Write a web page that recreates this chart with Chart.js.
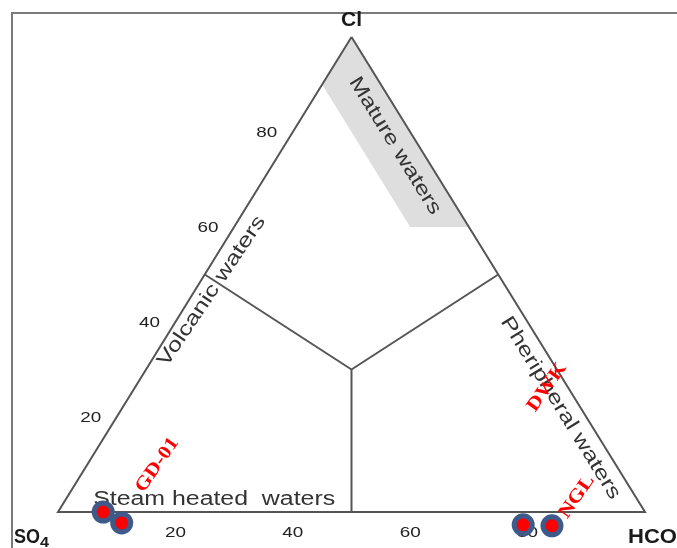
<!DOCTYPE html>
<html lang="en">
<head>
<meta charset="UTF-8">
<title>Cl - SO4 - HCO3 ternary diagram</title>
<script src="https://cdn.jsdelivr.net/npm/chart.js"></script>
<style>
  html, body { margin: 0; padding: 0; background: #fff; }
</style>
</head>
<body>
<canvas id="ternary" width="677" height="548"></canvas>
<script>
  // ternary points are [Cl, SO4, HCO3] in %
  const tickValues = [20, 40, 60, 80];
  const outline = [[100, 0, 0], [0, 100, 0], [0, 0, 100], [100, 0, 0]];
  const matureZone = [[100, 0, 0], [60, 0, 40], [60, 10, 30], [90, 10, 0], [100, 0, 0]];
  const volcanicLine = [[50, 50, 0], [30, 35, 35]];
  const peripheralLine = [[50, 0, 50], [30, 35, 35]];
  const steamLine = [[30, 35, 35], [0, 50, 50]];

  // samples (Cl %, HCO3 %)
  const sampleCl = [0, -2.3, -2.7, -2.9];
  const sampleHCO3 = [7.7, 12.0, 80.6, 85.6];
  const sampleLabels = ['GD-01', 'DWK', 'NGL'];

  const regionNames = ['Mature waters', 'Volcanic waters', 'Pheripheral waters', 'Steam heated  waters'];

  function tern(p) {
    return { x: p[2] + p[0] / 2, y: p[0] };
  }

  const samplePoints = sampleCl.map((cl, i) => tern([cl, 100 - cl - sampleHCO3[i], sampleHCO3[i]]));

  // text fitted to a given length along its baseline
  function fitText(ctx, text, cx, cy, angle, font, len, color, align) {
    ctx.save();
    ctx.translate(cx, cy);
    ctx.rotate(angle);
    ctx.font = font;
    const w = ctx.measureText(text).width;
    ctx.scale(len / w, 1);
    ctx.textAlign = align || 'center';
    ctx.textBaseline = 'middle';
    ctx.fillStyle = color;
    ctx.fillText(text, 0, 0);
    ctx.restore();
  }

  function pix(chart, x, y) {
    return { x: chart.scales.x.getPixelForValue(x), y: chart.scales.y.getPixelForValue(y) };
  }

  const lineStyle = { borderColor: '#555', borderWidth: 2, pointRadius: 0, fill: false, tension: 0 };

  const decor = {
    id: 'decor',
    beforeDatasetsDraw(chart) {
      const ctx = chart.ctx;
      // frame
      ctx.save();
      ctx.strokeStyle = '#7a7a7a';
      ctx.lineWidth = 2;
      ctx.strokeRect(12, 13, 720, 600);
      ctx.restore();

      const apex = pix(chart, 50, 100);
      const so = pix(chart, 0, 0);
      const hc = pix(chart, 100, 0);

      // corner labels
      const cf = 'bold 20px Arial, "Liberation Sans"';
      const sub = 'bold 14px Arial, "Liberation Sans"';
      fitText(ctx, 'Cl', apex.x, apex.y - 17, 0, 'bold 21px Arial, "Liberation Sans"', 21, '#1a1a1a');
      fitText(ctx, 'SO', so.x - 44, so.y + 25, 0, cf, 26, '#1a1a1a', 'left');
      fitText(ctx, '4', so.x - 18, so.y + 31, 0, sub, 9, '#1a1a1a', 'left');
      fitText(ctx, 'HCO', hc.x - 17, hc.y + 25, 0, cf, 49, '#1a1a1a', 'left');
      fitText(ctx, '3', hc.x + 33, hc.y + 31, 0, sub, 9, '#1a1a1a', 'left');

      // tick labels
      const tf = '15px Arial, "Liberation Sans"';
      tickValues.forEach(v => {
        const b = pix(chart, v, 0);
        fitText(ctx, String(v), b.x, b.y + 21, 0, tf, 21, '#222');
        const l = pix(chart, v / 2, v);
        fitText(ctx, String(v), l.x - 26, l.y + 1, 0, tf, 21, '#222');
      });
    },
    afterDatasetDraw(chart, args) {
      if (args.index !== chart.data.datasets.length - 1) return;
      const ctx = chart.ctx;
      const apex = pix(chart, 50, 100);
      const so = pix(chart, 0, 0);
      const hc = pix(chart, 100, 0);
      const leftAng = Math.atan2(apex.y - so.y, apex.x - so.x);
      const rightAng = Math.atan2(hc.y - apex.y, hc.x - apex.x);
      const rf = '20px Arial, "Liberation Sans"';
      const col = '#333';
      let p = pix(chart, 57.4, 77.1);
      fitText(ctx, regionNames[0], p.x, p.y, rightAng, rf, 158, col);
      p = pix(chart, 26.2, 46.5);
      fitText(ctx, regionNames[1], p.x, p.y, leftAng + 0.04, rf, 177, col);
      p = pix(chart, 85.6, 21.9);
      fitText(ctx, regionNames[2], p.x, p.y, rightAng, rf, 211, col);
      p = pix(chart, 26.6, 2.6);
      fitText(ctx, regionNames[3], p.x, p.y, 0, rf, 242, col);
    },
    afterDatasetsDraw(chart) {
      const ctx = chart.ctx;
      const sf = 'bold 19px "Liberation Serif", "Times New Roman", serif';
      const ang = -55 * Math.PI / 180;
      const spots = [[16.9, 9.9, 62], [83.3, 26.3, 55], [88.4, 3.2, 48]];
      sampleLabels.forEach((t, i) => {
        const p = pix(chart, spots[i][0], spots[i][1]);
        fitText(ctx, t, p.x, p.y, ang, sf, spots[i][2], '#ff0000');
      });
    }
  };

  new Chart(document.getElementById('ternary'), {
    type: 'line',
    data: {
      datasets: [
        {
          label: 'samples',
          data: samplePoints,
          showLine: false,
          pointRadius: 9,
          pointBorderWidth: 5,
          pointBackgroundColor: '#ff0000',
          pointBorderColor: '#3e5a8a',
          clip: false
        },
        Object.assign({ data: steamLine.map(tern) }, lineStyle),
        Object.assign({ data: peripheralLine.map(tern) }, lineStyle),
        Object.assign({ data: volcanicLine.map(tern) }, lineStyle),
        Object.assign({ data: outline.map(tern), clip: false }, lineStyle),
        {
          label: 'mature',
          data: matureZone.map(tern),
          borderWidth: 0,
          pointRadius: 0,
          backgroundColor: '#dedede',
          fill: 'shape'
        }
      ]
    },
    options: {
      responsive: false,
      animation: false,
      events: [],
      layout: { padding: { left: 58, right: 32, top: 37, bottom: 36 } },
      plugins: { legend: { display: false }, tooltip: { enabled: false } },
      scales: {
        x: { type: 'linear', min: 0, max: 100, display: false },
        y: { type: 'linear', min: 0, max: 100, display: false }
      }
    },
    plugins: [decor]
  });
</script>
</body>
</html>
